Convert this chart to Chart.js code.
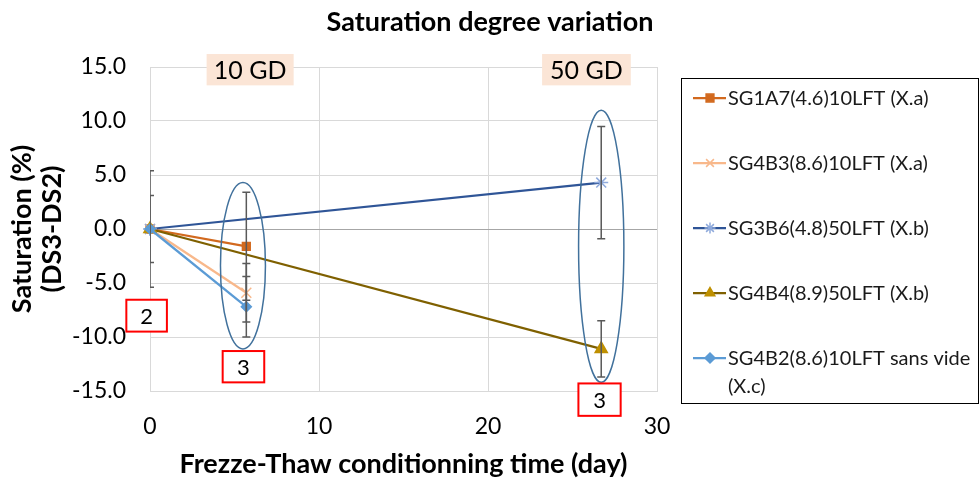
<!DOCTYPE html>
<html>
<head>
<meta charset="utf-8">
<script src="https://cdn.jsdelivr.net/npm/chart.js@4.4.1/dist/chart.umd.min.js"></script>
<style>
  html, body { margin: 0; padding: 0; background: #fff; }
  #wrap { width: 980px; height: 481px; position: relative; }
</style>
</head>
<body>
<div id="wrap"><canvas id="chart"></canvas></div>
<script>
// conditioning time (days) for the 10 GD and 50 GD series
const days10 = [0, 5.7];
const days50 = [0, 26.7];

const names = [
  "SG1A7(4.6)10LFT (X.a)",
  "SG4B3(8.6)10LFT (X.a)",
  "SG3B6(4.8)50LFT (X.b)",
  "SG4B4(8.9)50LFT (X.b)",
  "SG4B2(8.6)10LFT sans vide (X.c)"
];

// saturation (%) values
const sg1a7 = [0, -1.6];
const sg4b3 = [0, -5.9];
const sg3b6 = [0, 4.3];
const sg4b4 = [0, -11.1];
const sg4b2 = [0, -7.2];

// error bar half widths
const errSg1a7 = [0, 5.0];
const errSg4b3 = [0, 2.7];
const errSg3b6 = [5.4, 5.2];
const errSg4b4 = [3.1, 2.6];
const errSg4b2 = [0, 2.8];

const FONT = "Lato";

function pts(xs, ys, errs) {
  return xs.map((x, i) => ({ x: x, y: ys[i], err: errs[i] }));
}

const styles = [
  { color: "#D2691E", marker: "#D2691E", pointStyle: "rect", r: 5.5 },
  { color: "#F8B88B", marker: "#F8B88B", pointStyle: "crossRot", r: 7 },
  { color: "#2F5597", marker: "#8FAADC", pointStyle: "star", r: 7 },
  { color: "#7F6000", marker: "#BF9000", pointStyle: "triangle", r: 7 },
  { color: "#5B9BD5", marker: "#5B9BD5", pointStyle: "rectRot", r: 5 }
];

const seriesData = [
  pts(days10, sg1a7, errSg1a7),
  pts(days10, sg4b3, errSg4b3),
  pts(days50, sg3b6, errSg3b6),
  pts(days50, sg4b4, errSg4b4),
  pts(days10, sg4b2, errSg4b2)
];

const datasets = seriesData.map((d, i) => ({
  label: names[i],
  data: d,
  borderColor: styles[i].color,
  backgroundColor: styles[i].marker,
  pointBorderColor: styles[i].marker,
  pointBackgroundColor: styles[i].marker,
  pointStyle: styles[i].pointStyle,
  pointRadius: styles[i].r,
  pointBorderWidth: 1.5,
  borderWidth: 2.25,
  fill: false,
  clip: false,
  order: names.length - i
}));

// annotations in data units
const ellipses = [
  { x: 5.5, y: -3.4, rx: 1.33, ry: 7.7 },
  { x: 26.7, y: -1.6, rx: 1.34, ry: 12.6 }
];
const groupLabels = [
  { text: "10 GD", x0: 3.35, x1: 8.5, y0: 13.3, y1: 16.2 },
  { text: "50 GD", x0: 23.2, x1: 28.45, y0: 13.3, y1: 16.2 }
];
const countBoxes = [
  { text: "2", x0: -1.4, x1: 1.0, y0: -9.5, y1: -6.55 },
  { text: "3", x0: 4.3, x1: 6.76, y0: -14.2, y1: -11.3 },
  { text: "3", x0: 25.35, x1: 27.85, y0: -17.3, y1: -14.3 }
];

// reserves the space on the right for the legend box, so the title stays centred on the page
const legendSpace = {
  id: "legendSpace",
  beforeInit(chart) {
    Chart.layouts.addBox(chart, {
      position: "right",
      weight: 0,
      fullSize: false,
      options: {},
      width: 0, height: 0, left: 0, top: 0, right: 0, bottom: 0,
      isHorizontal() { return false; },
      update(maxW, maxH) { this.width = 323; this.height = maxH; },
      draw() {}
    });
  }
};

const errorBars = {
  id: "errorBars",
  afterDatasetsDraw(chart) {
    const { ctx, chartArea, scales } = chart;
    ctx.save();
    ctx.beginPath();
    ctx.rect(chartArea.left, chartArea.top, chartArea.right - chartArea.left, chartArea.bottom - chartArea.top);
    ctx.clip();
    ctx.strokeStyle = "#595959";
    ctx.lineWidth = 1.5;
    chart.data.datasets.forEach(ds => {
      ds.data.forEach(p => {
        if (!p.err) return;
        const px = scales.x.getPixelForValue(p.x);
        const top = scales.y.getPixelForValue(p.y + p.err);
        const bot = scales.y.getPixelForValue(p.y - p.err);
        ctx.beginPath();
        ctx.moveTo(px, top); ctx.lineTo(px, bot);
        ctx.moveTo(px - 4, top); ctx.lineTo(px + 4, top);
        ctx.moveTo(px - 4, bot); ctx.lineTo(px + 4, bot);
        ctx.stroke();
      });
    });
    ctx.restore();
  }
};

const notes = {
  id: "notes",
  afterDraw(chart) {
    const { ctx, scales } = chart;
    const X = v => scales.x.getPixelForValue(v);
    const Y = v => scales.y.getPixelForValue(v);
    ctx.save();
    // ellipses
    ctx.strokeStyle = "#41719C";
    ctx.lineWidth = 1.5;
    ellipses.forEach(e => {
      const cx = X(e.x), cy = Y(e.y);
      const rx = Math.abs(X(e.x + e.rx) - cx), ry = Math.abs(Y(e.y + e.ry) - cy);
      ctx.beginPath();
      ctx.ellipse(cx, cy, rx, ry, 0, 0, Math.PI * 2);
      ctx.stroke();
    });
    ctx.textAlign = "center";
    ctx.textBaseline = "middle";
    // group labels
    ctx.font = "25px " + FONT;
    groupLabels.forEach(g => {
      const l = X(g.x0), r = X(g.x1), t = Y(g.y1), b = Y(g.y0);
      ctx.fillStyle = "#FBE5D6";
      ctx.fillRect(l, t, r - l, b - t);
      ctx.fillStyle = "#000";
      ctx.fillText(g.text, (l + r) / 2, (t + b) / 2 + 1);
    });
    // count boxes
    ctx.font = "22px " + FONT;
    countBoxes.forEach(c => {
      const l = X(c.x0), r = X(c.x1), t = Y(c.y1), b = Y(c.y0);
      ctx.fillStyle = "#fff";
      ctx.fillRect(l, t, r - l, b - t);
      ctx.strokeStyle = "#FF0000";
      ctx.lineWidth = 2;
      ctx.strokeRect(l, t, r - l, b - t);
      ctx.fillStyle = "#000";
      ctx.fillText(c.text, (l + r) / 2, (t + b) / 2 + 1);
    });

    // legend box
    const bx = 681, by = 78, bw = 297, bh = 325;
    ctx.strokeStyle = "#000";
    ctx.lineWidth = 1;
    ctx.strokeRect(bx + 0.5, by + 0.5, bw, bh);
    ctx.font = "20px " + FONT;
    ctx.textAlign = "left";
    const textX = 728, maxW = bx + bw - textX;
    chart.data.datasets.forEach((ds, i) => {
      const y = 98 + i * 65;
      ctx.strokeStyle = ds.borderColor;
      ctx.lineWidth = 2.25;
      ctx.beginPath();
      ctx.moveTo(693, y); ctx.lineTo(726, y);
      ctx.stroke();
      ctx.fillStyle = ds.pointBackgroundColor;
      ctx.strokeStyle = ds.pointBorderColor;
      ctx.lineWidth = 1.5;
      Chart.helpers.drawPoint(ctx, {
        pointStyle: ds.pointStyle, radius: Math.min(ds.pointRadius, 5.5), rotation: 0, borderWidth: 1.5
      }, 710, y);
      ctx.fillStyle = "#1a1a1a";
      const words = ds.label.split(" ");
      const lines = [];
      let cur = "";
      words.forEach(w => {
        const test = cur ? cur + " " + w : w;
        if (ctx.measureText(test).width > maxW && cur) { lines.push(cur); cur = w; }
        else cur = test;
      });
      lines.push(cur);
      lines.forEach((ln, k) => ctx.fillText(ln, textX, y + 1 + k * 28));
    });
    ctx.restore();
  }
};

new Chart(document.getElementById("chart"), {
  type: "line",
  data: { datasets: datasets },
  plugins: [legendSpace, errorBars, notes],
  options: {
    responsive: true,
    maintainAspectRatio: false,
    animation: false,
    layout: { padding: 0 },
    plugins: {
      legend: { display: false },
      tooltip: { enabled: false },
      title: {
        display: true,
        text: "Saturation degree variation",
        color: "#000",
        font: { family: FONT, size: 27, weight: "bold", lineHeight: 1.2 },
        padding: { top: 5.8, bottom: 28.8 },
        align: "center"
      }
    },
    scales: {
      x: {
        type: "linear",
        min: 0, max: 30,
        ticks: { stepSize: 10, color: "#000", padding: 22, font: { family: FONT, size: 23 } },
        grid: { color: "#d9d9d9", drawTicks: false },
        border: { color: "#d9d9d9" },
        title: {
          display: true,
          text: "Frezze-Thaw conditionning time (day)",
          color: "#000",
          font: { family: FONT, size: 27, weight: "bold", lineHeight: 1.2 },
          padding: { top: 0, bottom: 1 }
        },
        afterFit(s) { s.height = 90; }
      },
      y: {
        min: -15, max: 15,
        ticks: {
          stepSize: 5, color: "#000", padding: 24,
          font: { family: FONT, size: 23 },
          callback: v => Number(v).toFixed(1)
        },
        grid: {
          color: c => (c.tick && c.tick.value === 0 ? "#a6a6a6" : "#d9d9d9"),
          drawTicks: false
        },
        border: { color: "#d9d9d9" },
        title: {
          display: true,
          text: ["Saturation (%)", "(DS3-DS2)"],
          color: "#000",
          font: { family: FONT, size: 27, weight: "bold", lineHeight: 1.111 },
          padding: { top: 7, bottom: 0 }
        },
        afterFit(s) { s.width = 150; }
      }
    }
  }
});
</script>
</body>
</html>
